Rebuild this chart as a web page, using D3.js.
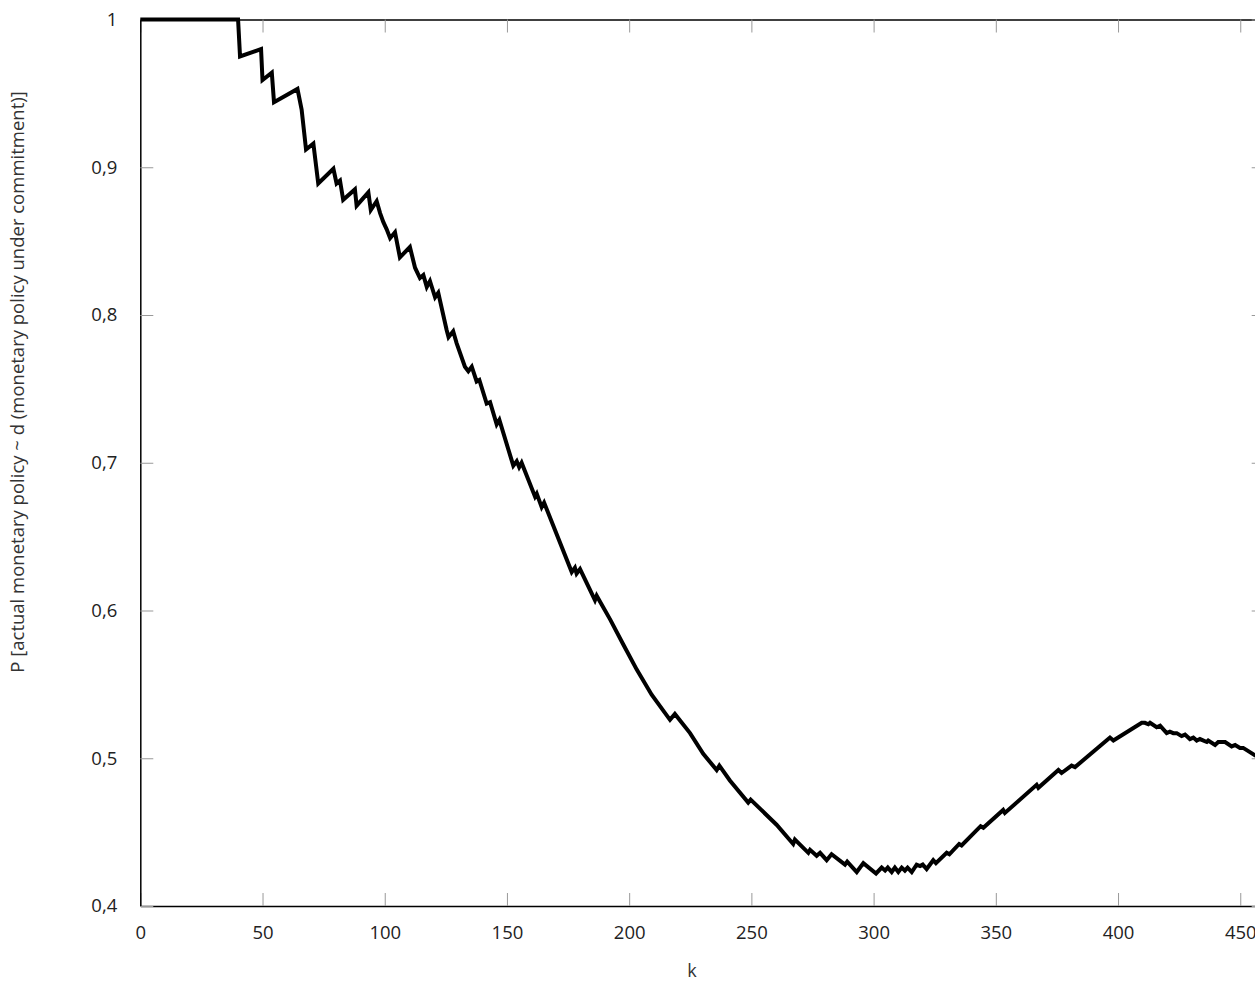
<!DOCTYPE html>
<html>
<head>
<meta charset="utf-8">
<script src="https://cdn.jsdelivr.net/npm/d3@7"></script>
<style>
  body { margin: 0; background: #fff; }
  svg { display: block; font-family: 'Open Sans', sans-serif; }
</style>
</head>
<body>
<div class="main-content"></div>
<script>
// values, k on x, probability on y
const kValues = [
  0, 40, 40.8, 49.4, 50.0, 53.8, 54.7, 64.3, 66.0, 67.8, 70.8, 72.8,
  79.0, 80.3, 81.7, 83.0, 87.8, 88.5, 93.3, 94.3, 96.7, 98.1, 99.4, 100.8, 102.2,
  104.2, 106.2, 110.3, 112.4, 114.4, 115.8, 117.2, 118.5, 120.6, 121.9,
  125.3, 126.1, 128.0, 129.4, 132.8, 134.2, 135.6, 137.6, 138.7, 141.7, 143.1,
  145.8, 146.9, 152.6, 154.0, 155.0, 156.0, 161.5, 162.2, 164.2, 165.2,
  176.5, 177.8, 178.5, 179.9, 186.0, 186.7, 192.2, 197.6, 203.1, 209.2,
  216.7, 218.7, 224.9, 230.3, 235.8, 236.9, 241.2, 248.7, 249.7, 260.3,
  267.1, 267.8, 273.3, 274.0, 276.7, 278.1, 280.8, 282.8, 288.3, 289.2,
  293.1, 295.8, 301.0, 303.3, 304.7, 305.8, 307.4, 308.7, 310.1, 311.5,
  312.8, 313.9, 315.6, 317.6, 319.0, 320.1, 321.7, 324.4, 325.5, 329.9,
  331.0, 335.0, 336.0, 343.8, 344.9, 353.0, 353.7, 366.7, 367.4, 375.6,
  376.9, 381.0, 382.4, 396.0, 396.7, 398.1, 409.7, 411.0, 412.4, 413.1,
  415.8, 417.2, 419.9, 421.2, 422.6, 424.0, 426.0, 427.4, 429.4, 430.8,
  432.2, 433.5, 436.3, 436.9, 439.7, 441.0, 443.8, 446.5, 447.9, 449.9,
  451.2, 456.0, 460
]
const pValues = [
  1, 1, 0.975, 0.980, 0.959, 0.964, 0.944, 0.953, 0.939, 0.912, 0.916, 0.889,
  0.899, 0.889, 0.891, 0.878, 0.885, 0.874, 0.883, 0.871, 0.877, 0.869, 0.863, 0.858, 0.852,
  0.856, 0.839, 0.846, 0.832, 0.825, 0.827, 0.819, 0.823, 0.812, 0.815,
  0.790, 0.785, 0.789, 0.781, 0.765, 0.762, 0.765, 0.755, 0.756, 0.740, 0.741,
  0.726, 0.729, 0.698, 0.701, 0.697, 0.700, 0.677, 0.679, 0.670, 0.673,
  0.626, 0.629, 0.625, 0.628, 0.607, 0.610, 0.594, 0.577, 0.560, 0.543,
  0.526, 0.530, 0.517, 0.503, 0.492, 0.495, 0.485, 0.470, 0.472, 0.455,
  0.442, 0.445, 0.436, 0.438, 0.434, 0.436, 0.431, 0.435, 0.428, 0.430,
  0.423, 0.429, 0.422, 0.426, 0.424, 0.426, 0.423, 0.426, 0.423, 0.426,
  0.424, 0.426, 0.423, 0.428, 0.427, 0.428, 0.425, 0.431, 0.429, 0.436,
  0.435, 0.442, 0.441, 0.454, 0.453, 0.465, 0.463, 0.482, 0.480, 0.492,
  0.490, 0.495, 0.494, 0.513, 0.514, 0.512, 0.524, 0.524, 0.523, 0.524,
  0.521, 0.522, 0.517, 0.518, 0.517, 0.517, 0.515, 0.516, 0.513, 0.514,
  0.512, 0.513, 0.511, 0.512, 0.509, 0.511, 0.511, 0.508, 0.509, 0.507,
  0.507, 0.502, 0.499
]
const xTicks = [0, 50, 100, 150, 200, 250, 300, 350, 400, 450]
const yTicks = [0.4, 0.5, 0.6, 0.7, 0.8, 0.9, 1]
const xTitle = 'k'
const yTitle = 'P [actual monetary policy ~ d (monetary policy under commitment)]'

const width = 1255
const height = 981
const plotLeft = 140.3
const plotRight = 1264.7
const plotTop = 19.5
const plotBottom = 906
const tickLength = 13

var svg = d3.select('.main-content')
  .append('svg')
  .attr('width', width)
  .attr('height', height)

var x = d3.scaleLinear().domain([0, 460]).range([plotLeft, plotRight])
var y = d3.scaleLinear().domain([0.4, 1]).range([plotBottom, plotTop])

function commaFormat(d) {
  return d3.format('~g')(d).replace('.', ',')
}

// inward gray ticks on all four sides, labels only bottom and left
var bottomAxis = d3.axisBottom(x).tickValues(xTicks).tickSizeInner(-tickLength).tickSizeOuter(0).tickPadding(tickLength + 7).tickFormat(commaFormat)
var topAxis = d3.axisTop(x).tickValues(xTicks).tickSizeInner(-tickLength).tickSizeOuter(0).tickFormat('')
var leftAxis = d3.axisLeft(y).tickValues(yTicks).tickSizeInner(-tickLength).tickSizeOuter(0).tickPadding(tickLength + 10).tickFormat(commaFormat)
var rightAxis = d3.axisRight(y).tickValues(yTicks).tickSizeInner(-tickLength).tickSizeOuter(0).tickFormat('')

function styleAxis(g) {
  g.select('.domain').attr('stroke', '#000').attr('stroke-width', 1.5)
  g.selectAll('.tick line').attr('stroke', '#999').attr('stroke-width', 1)
  g.selectAll('.tick text')
    .attr('fill', '#222')
    .style('font-size', '18.5px')
    .style('font-family', "'Open Sans', sans-serif")
}

svg.append('g').attr('transform', 'translate(0,' + plotBottom + ')').call(bottomAxis).call(styleAxis)
svg.append('g').attr('transform', 'translate(0,' + plotTop + ')').call(topAxis).call(styleAxis)
svg.append('g').attr('transform', 'translate(' + plotLeft + ',0)').call(leftAxis).call(styleAxis)
svg.append('g').attr('transform', 'translate(' + plotRight + ',0)').call(rightAxis).call(styleAxis)

var points = kValues.map(function(k, i) {
  return [k, pValues[i]]
})

var line = d3.line()
  .x(function(d) { return x(d[0]) })
  .y(function(d) { return y(d[1]) })

svg.append('path')
  .datum(points)
  .attr('d', line)
  .attr('fill', 'none')
  .attr('stroke', '#000')
  .attr('stroke-width', 4)
  .attr('stroke-linejoin', 'miter')

svg.append('text')
  .attr('x', 692)
  .attr('y', 977)
  .attr('text-anchor', 'middle')
  .attr('fill', '#333')
  .style('font-size', '18px')
  .text(xTitle)

svg.append('text')
  .attr('transform', 'translate(24,382) rotate(-90)')
  .attr('text-anchor', 'middle')
  .attr('fill', '#333')
  .style('font-size', '18.5px')
  .text(yTitle)
</script>
</body>
</html>
